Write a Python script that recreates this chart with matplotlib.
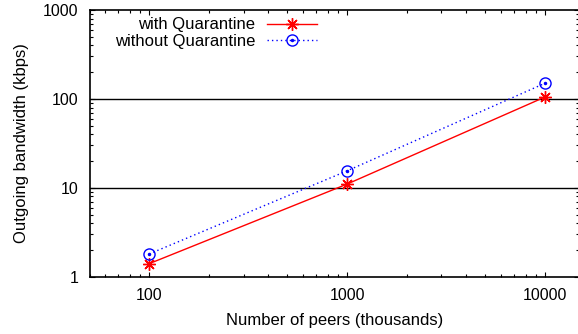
import numpy as np
import matplotlib
matplotlib.use("Agg")
import matplotlib.pyplot as plt
from matplotlib.legend_handler import HandlerTuple

plt.rcParams['font.family'] = ['Liberation Sans', 'DejaVu Sans']

peers = [100, 1000, 10000]
with_q = [1.4, 11.0, 105]
without_q = [1.8, 15.5, 150]
labels = ["with Quarantine", "without Quarantine"]

W, H = 578, 334
fig = plt.figure(figsize=(W / 100, H / 100), dpi=100)
left, right, top, bottom = 89.5, 579.0, 10.0, 276.7
ax = fig.add_axes([left / W, 1 - bottom / H, (right - left) / W, (bottom - top) / H])

ax.set_xscale('log')
ax.set_yscale('log')
dec = (545.0 - 149.3) / 2
ax.set_xlim(50, 10 ** (4 + (right - 545.0) / dec))
ax.set_ylim(1, 1000)

l1, = ax.plot(peers, with_q, color='#ff0000', lw=1.0, marker=(8, 2, 0),
              markersize=9, markeredgewidth=1.0, zorder=3)
l2, = ax.plot(peers, without_q, color='#0000ff', lw=1.0, linestyle=(0, (1, 2.2)),
              marker='o', markersize=8, markerfacecolor='none',
              markeredgewidth=1.0, zorder=3)
d2, = ax.plot(peers, without_q, color='#0000ff', lw=0, marker='o',
              markersize=1.5, zorder=4)

for yv in [10, 100]:
    ax.axhline(yv, color='black', lw=1.0, zorder=1)

ax.set_xticks(peers)
ax.set_xticklabels([str(p) for p in peers])
ax.set_yticks([1, 10, 100, 1000])
ax.set_yticklabels(['1', '10', '100', '1000'])

ax.tick_params(which='both', direction='in', top=True, right=True,
               labelsize=11.5, width=0.8)
ax.tick_params(which='major', length=3.5, pad=8)
ax.tick_params(which='minor', length=2.0)
for s in ax.spines.values():
    s.set_linewidth(1.2)

ax.set_xlabel("Number of peers (thousands)", fontsize=12, labelpad=7)
ax.set_ylabel("Outgoing bandwidth (kbps)", fontsize=12, labelpad=10)

leg = ax.legend([l1, (l2, d2)], labels, markerfirst=False, frameon=False,
                loc='upper right', bbox_to_anchor=((324 - left) / (right - left), 1.0),
                borderaxespad=0, borderpad=0.45, handlelength=3.0,
                handletextpad=0.66, labelspacing=0.1, fontsize=12,
                handler_map={tuple: HandlerTuple(ndivide=1)})

fig.savefig("out.png", dpi=100)
